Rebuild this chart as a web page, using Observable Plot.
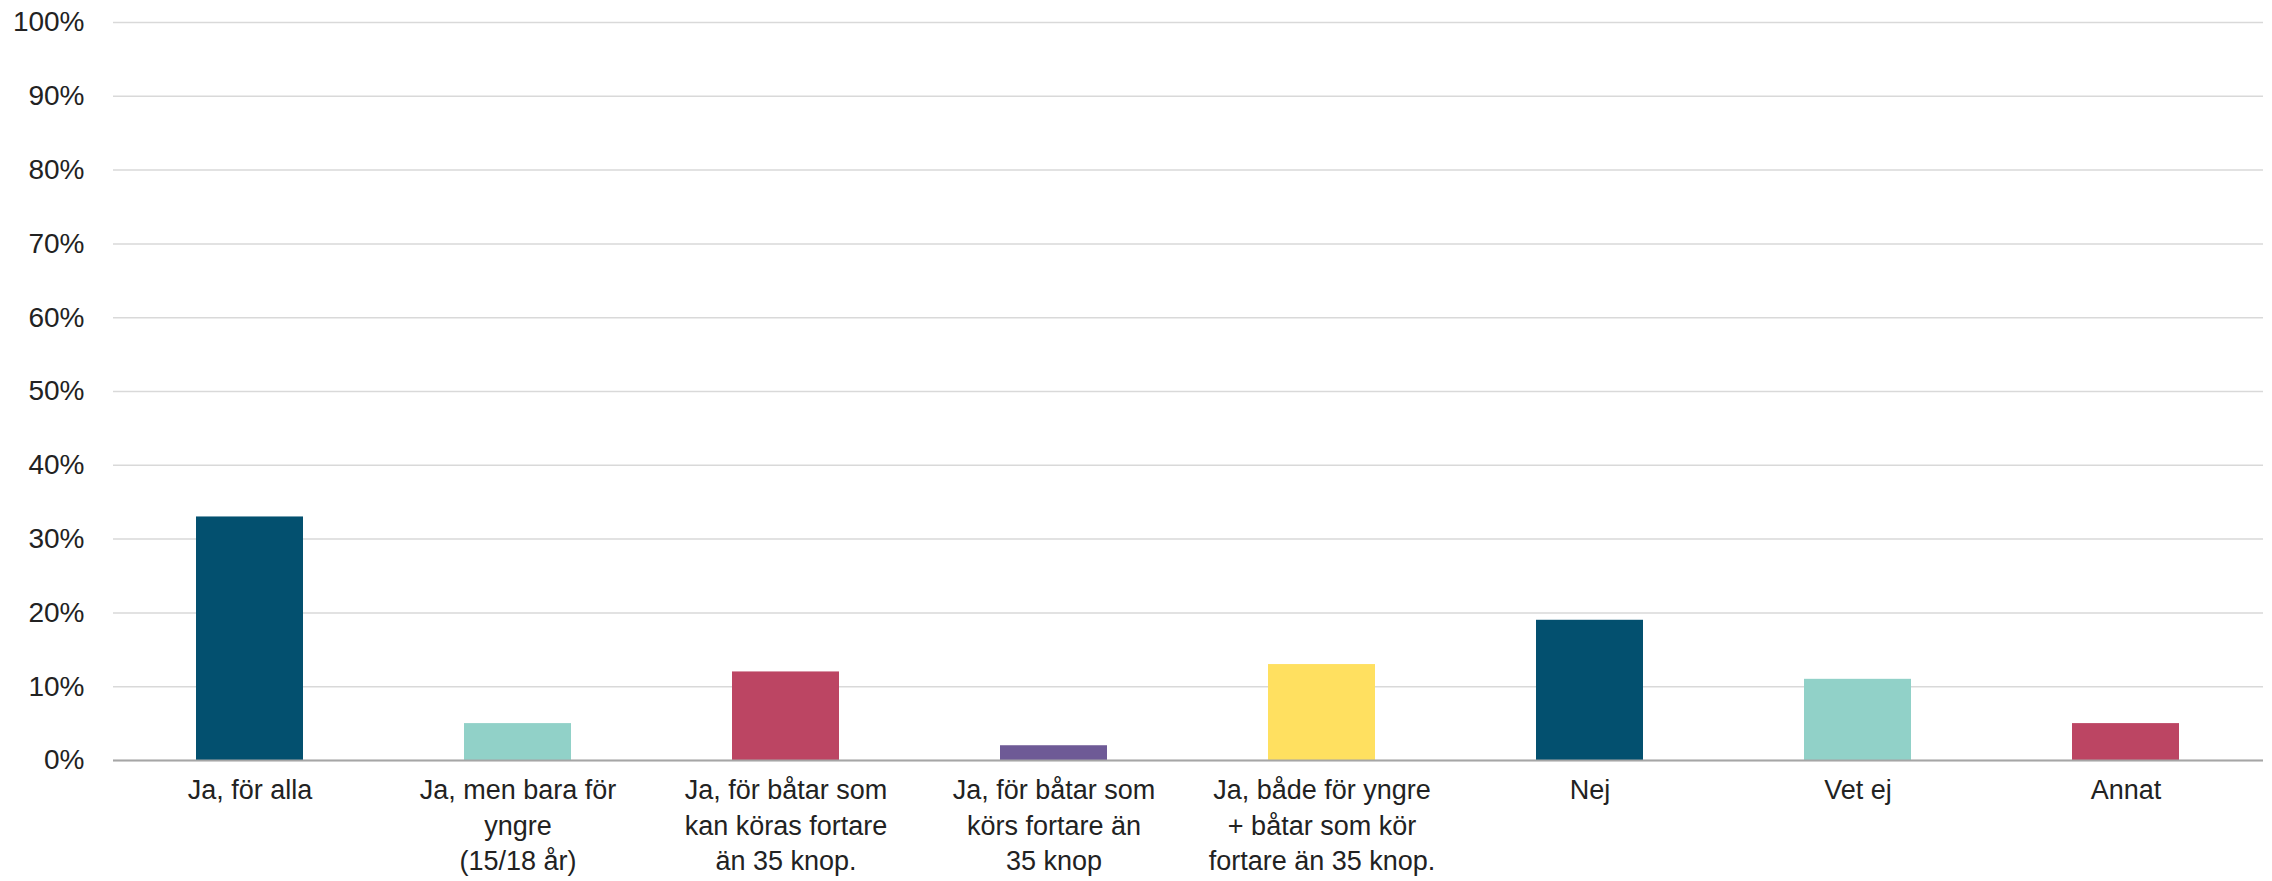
<!DOCTYPE html>
<html>
<head>
<meta charset="utf-8">
<script src="https://cdn.jsdelivr.net/npm/d3@7"></script>
<script src="https://cdn.jsdelivr.net/npm/@observablehq/plot@0.6"></script>
<style>
  html, body { margin: 0; padding: 0; background: #fff; }
  #chart { width: 2272px; height: 881px; }
</style>
</head>
<body>
<div id="chart"></div>
<script>
const categories = [
  "Ja, för alla",
  "Ja, men bara för\nyngre\n(15/18 år)",
  "Ja, för båtar som\nkan köras fortare\nän 35 knop.",
  "Ja, för båtar som\nkörs fortare än\n35 knop",
  "Ja, både för yngre\n+ båtar som kör\nfortare än 35 knop.",
  "Nej",
  "Vet ej",
  "Annat"
];
const values = [33, 5, 12, 2, 13, 19, 11, 5];
const colors = ["#03506f", "#91d1c8", "#bc4563", "#6e5a96", "#ffe060", "#03506f", "#91d1c8", "#bc4563"];
const yTicks = [0, 10, 20, 30, 40, 50, 60, 70, 80, 90, 100];

const data = categories.map((c, i) => ({category: c, value: values[i], color: colors[i]}));

const chart = Plot.plot({
  width: 2272,
  height: 881,
  marginLeft: 113,
  marginRight: 9,
  marginTop: 22,
  marginBottom: 121,
  style: {fontFamily: "'Liberation Sans', Arial, sans-serif", fontSize: "28px", color: "#222", background: "#fff"},
  x: {domain: categories, paddingInner: 0.6, paddingOuter: 0.3, label: null},
  y: {domain: [0, 100], label: null},
  marks: [
    Plot.gridY(yTicks, {stroke: "#d9d9d9", strokeOpacity: 1, strokeWidth: 1.5}),
    Plot.barY(data, {x: "category", y: "value", fill: "color"}),
    Plot.ruleY([0], {stroke: "#a6a6a6", strokeWidth: 2}),
    Plot.axisY(yTicks, {tickSize: 0, tickPadding: 29, tickFormat: d => d + "%", fontSize: 28, label: null}),
    Plot.axisX({tickSize: 0, tickPadding: 14, fontSize: 27, lineHeight: 1.3, label: null})
  ]
});
document.getElementById("chart").appendChild(chart);
</script>
</body>
</html>
